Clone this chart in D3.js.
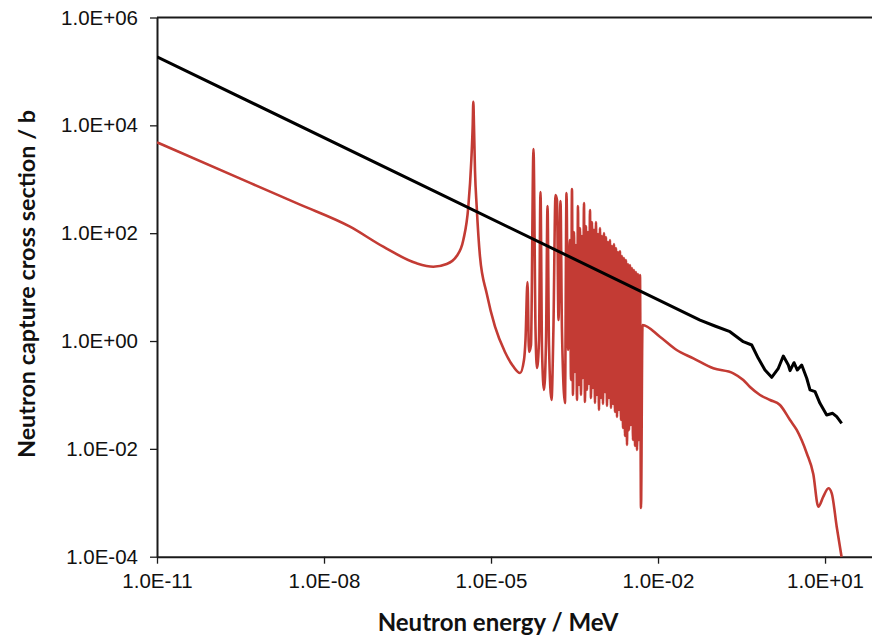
<!DOCTYPE html>
<html><head><meta charset="utf-8">
<script src="https://cdn.jsdelivr.net/npm/d3@7"></script>
<style>
html,body{margin:0;padding:0;background:#fff;}
svg{display:block;}
</style></head>
<body>
<svg id="chart" width="872" height="639"></svg>
<script>
// ---- data (energy in MeV, cross section in barns) ----
const xTickValues = [1e-11, 1e-8, 1e-5, 1e-2, 1e1];
const xTickLabels = ["1.0E-11", "1.0E-08", "1.0E-05", "1.0E-02", "1.0E+01"];
const yTickValues = [1e-4, 1e-2, 1e0, 1e2, 1e4, 1e6];
const yTickLabels = ["1.0E-04", "1.0E-02", "1.0E+00", "1.0E+02", "1.0E+04", "1.0E+06"];

const blackEnergy = [1e-11, 1e-6, 5.68e-2, 0.105, 0.196, 0.340, 0.482, 0.633, 0.834, 1.10, 1.45, 1.78, 2.19, 2.35, 2.77, 3.18, 3.81, 4.69, 5.37, 6.61, 8.11, 10.7, 13.7, 16.2, 19.9];
const blackSigma  = [1.87e5, 590, 2.45, 1.90, 1.49, 0.971, 0.843, 0.478, 0.290, 0.212, 0.312, 0.527, 0.359, 0.282, 0.396, 0.290, 0.359, 0.204, 0.124, 0.115, 0.070, 0.0425, 0.0457, 0.0395, 0.0298];

// thermal region and first (4.9 eV) resonance
const redEnergyLow = [1e-11, 4.69e-10, 3.71e-9, 2.93e-8, 1.16e-7, 4.62e-7, 9.18e-7, 1.60e-6, 2.42e-6, 3.18e-6, 3.91e-6, 4.43e-6, 4.69e-6, 4.81e-6, 4.94e-6, 5.15e-6, 5.53e-6, 6.34e-6, 8.35e-6, 1.18e-5, 1.78e-5, 2.48e-5, 3.32e-5];
const redSigmaLow  = [4840, 855, 339, 132, 56.1, 27.6, 23.9, 26.8, 37.7, 74.8, 310, 2280, 10100, 27400, 10100, 1490, 310, 36.6, 7.67, 1.84, 0.626, 0.344, 0.255];

// resolved resonance region
const redEnergyRes = [
  3.91e-5, 4.16e-5, 4.52e-5, 4.81e-5, 5.22e-5, 5.79e-5, 6.30e-5, 6.70e-5, 7.28e-5, 7.74e-5, 8.24e-5, 8.95e-5, 9.73e-5, 1.035e-4, 1.10e-4, 1.22e-4, 1.32e-4, 1.44e-4, 1.53e-4, 1.63e-4, 1.77e-4, 1.88e-4, 2.13e-4, 2.27e-4, 2.42e-4,
  2.62e-4, 2.731e-4, 2.846e-4, 2.966e-4, 3.092e-4, 3.222e-4, 3.358e-4, 3.500e-4, 3.648e-4, 3.802e-4, 3.963e-4, 4.130e-4, 4.305e-4, 4.486e-4, 4.676e-4, 4.873e-4, 5.079e-4, 5.294e-4, 5.517e-4, 5.750e-4, 5.993e-4, 6.246e-4, 6.510e-4, 6.785e-4, 7.072e-4, 7.371e-4, 7.682e-4, 8.007e-4, 8.345e-4, 8.698e-4, 9.065e-4,
  9.448e-4, 9.847e-4, 1.026e-3, 1.070e-3, 1.115e-3, 1.162e-3, 1.211e-3, 1.262e-3, 1.316e-3, 1.371e-3, 1.429e-3, 1.489e-3, 1.552e-3, 1.618e-3, 1.686e-3, 1.758e-3, 1.832e-3, 1.909e-3, 1.990e-3, 2.074e-3,
  2.161e-3, 2.253e-3, 2.348e-3, 2.447e-3, 2.550e-3, 2.658e-3, 2.771e-3, 2.888e-3, 3.010e-3, 3.137e-3, 3.269e-3, 3.407e-3, 3.551e-3, 3.701e-3, 3.858e-3, 4.021e-3, 4.190e-3, 4.367e-3, 4.552e-3, 4.744e-3, 4.94e-3, 5.26e-3
];
const redSigmaRes = [
  0.444, 1.04, 12.4, 0.625, 0.843, 3640, 1.60, 0.316, 1.04, 581, 0.681, 0.124, 1.04, 319, 0.843, 0.0805, 1.60, 511, 412, 2.45, 395, 1.60, 0.0708, 556, 0.681,
  74.8, 0.189, 659, 0.0998, 105, 0.266, 60.4, 0.0805, 319, 0.153, 125, 0.0998, 88.7, 0.206, 363, 0.0739, 136, 0.124, 105, 0.160, 269, 0.0877, 161, 0.135, 115, 0.0708, 161, 0.0998, 96.6, 0.0526, 125,
  0.0877, 88.7, 0.0679, 101, 0.113, 84.9, 0.0623, 68.6, 0.0877, 74.8, 0.0573, 57.8, 0.0679, 63.0, 0.0482, 53.1, 0.0390, 44.8, 0.0526, 46.7,
  0.0343, 37.7, 0.0243, 34.6, 0.0173, 31.8, 0.0118, 26.8, 0.0223, 25.7, 0.0277, 22.6, 0.0146, 20.7, 0.0113, 19.0, 0.00952, 17.5, 0.0146, 16.7, 0.0008, 1.98
];

// unresolved / fast region
const redEnergyHigh = [1.08e-2, 2.16e-2, 4.31e-2, 9.84e-2, 0.225, 0.340, 0.449, 0.679, 1.03, 1.55, 2.35, 3.10, 4.69, 6.15, 7.57, 9.31, 11.5, 13.2, 16.2, 19.8];
const redSigmaHigh  = [1.20, 0.681, 0.478, 0.312, 0.252, 0.189, 0.140, 0.0998, 0.0805, 0.0650, 0.0343, 0.0224, 0.00828, 0.00342, 0.000845, 0.0013, 0.00186, 0.0015, 0.00036, 1.0e-4];

const xTitle = "Neutron energy / MeV";
const yTitle = "Neutron capture cross section / b";

// ---- layout ----
const svg = d3.select("#chart");
const plotLeft = 157, plotTop = 17.5, plotBottom = 556.7;
const pxPerDecade = 55.67;
const x = d3.scaleLog().domain([1e-11, 1e2]).range([plotLeft, plotLeft + 13 * pxPerDecade]);
const y = d3.scaleLog().domain([1e-4, 1e6]).range([plotBottom, plotTop]);

svg.append("defs").append("clipPath").attr("id", "plotclip")
  .append("rect").attr("x", plotLeft).attr("y", plotTop).attr("width", 872 - plotLeft).attr("height", plotBottom - plotTop + 1);

// top frame line
svg.append("line").attr("x1", plotLeft).attr("x2", x(1e2)).attr("y1", plotTop).attr("y2", plotTop)
  .attr("stroke", "#1a1a1a").attr("stroke-width", 2);

const tickFont = "'Liberation Sans', Arial, sans-serif";

const xAxis = d3.axisBottom(x).tickValues(xTickValues)
  .tickFormat((d, i) => xTickLabels[i]).tickSizeInner(7).tickSizeOuter(0).tickPadding(10);
const gx = svg.append("g").attr("transform", `translate(0,${plotBottom})`).call(xAxis);
gx.select(".domain").attr("stroke", "#1a1a1a").attr("stroke-width", 2);
gx.selectAll(".tick line").attr("stroke", "#1a1a1a").attr("stroke-width", 1.3);
gx.selectAll(".tick text").attr("font-family", tickFont).attr("font-size", 20.5).attr("fill", "#111");

const yAxis = d3.axisLeft(y).tickValues(yTickValues)
  .tickFormat((d, i) => yTickLabels[i]).tickSizeInner(7).tickSizeOuter(0).tickPadding(12);
const gy = svg.append("g").attr("transform", `translate(${plotLeft},0)`).call(yAxis);
gy.select(".domain").attr("stroke", "#1a1a1a").attr("stroke-width", 2);
gy.selectAll(".tick line").attr("stroke", "#1a1a1a").attr("stroke-width", 1.3);
gy.selectAll(".tick text").attr("font-family", tickFont).attr("font-size", 20.5).attr("fill", "#111");

// ---- series ----
const smoothLine = d3.line().x(d => x(d[0])).y(d => y(d[1])).curve(d3.curveMonotoneX);
const straightLine = d3.line().x(d => x(d[0])).y(d => y(d[1]));
const redE = redEnergyLow.concat(redEnergyRes, redEnergyHigh);
const redS = redSigmaLow.concat(redSigmaRes, redSigmaHigh);
const redData = redE.map((e, i) => [e, redS[i]]);
const blackData = blackEnergy.map((e, i) => [e, blackSigma[i]]);

const plot = svg.append("g").attr("clip-path", "url(#plotclip)");
plot.append("path").datum(redData).attr("d", smoothLine)
  .attr("fill", "none").attr("stroke", "#c33b34").attr("stroke-width", 2.6)
  .attr("stroke-linejoin", "round");
plot.append("path").datum(blackData).attr("d", straightLine)
  .attr("fill", "none").attr("stroke", "#000").attr("stroke-width", 3)
  .attr("stroke-linejoin", "round");

// ---- titles ----
const titleFont = "Lato, 'Open Sans', sans-serif";
svg.append("text").attr("x", 498).attr("y", 631).attr("text-anchor", "middle")
  .attr("font-family", titleFont).attr("font-weight", "bold").attr("font-size", 24).attr("fill", "#111")
  .text(xTitle);
svg.append("text").attr("transform", "translate(35,284) rotate(-90)").attr("text-anchor", "middle")
  .attr("font-family", titleFont).attr("font-weight", "bold").attr("font-size", 23.4).attr("fill", "#111")
  .text(yTitle);
</script>
</body></html>
